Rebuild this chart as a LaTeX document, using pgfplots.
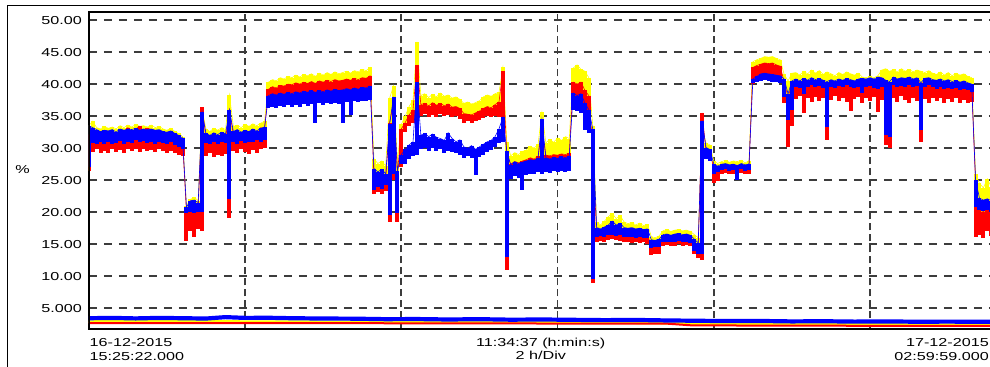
\documentclass[border=0pt]{standalone}
\usepackage{pgfplots}
\usepackage{pgfplotstable}
\pgfplotsset{compat=1.18}
\usepackage{fontspec}
\setmainfont{Liberation Sans}[FakeStretch=1.4]
\definecolor{gridgray}{HTML}{3C3C3C}
\definecolor{ylw}{HTML}{FFFF00}
\definecolor{rd}{HTML}{FF0000}
\definecolor{bl}{HTML}{0000FF}

% x = hours after 16-12-2015 15:25:22 ; Yt = yellow top, Rt/Rb = red top/bottom, Bt/Bb = blue top/bottom (%)
\pgfplotstableread{
x Yt Rt Rb Bt Bb
0.00 33.5 32.0 26.5 33.5 27.0
0.05 34.2 33.0 29.4 33.2 30.8
0.10 33.2 32.4 29.8 32.9 30.6
0.15 33.0 32.2 29.2 32.6 30.9
0.20 33.4 32.6 29.6 32.8 30.7
0.25 33.1 32.3 29.3 32.7 31.0
0.30 33.3 32.5 29.9 32.9 30.6
0.35 33.0 32.1 29.4 32.5 30.8
0.40 33.5 32.8 29.7 33.0 31.1
0.45 33.2 32.4 29.3 32.8 30.7
0.50 33.6 33.2 29.8 33.0 31.0
0.55 33.3 32.6 29.5 32.9 30.8
0.60 33.7 33.0 29.9 33.1 31.2
0.65 33.4 33.4 29.4 32.8 30.9
0.70 33.5 32.7 29.8 33.0 31.1
0.75 33.3 33.1 29.5 32.9 30.8
0.80 33.6 32.9 29.7 33.0 31.0
0.85 33.2 32.5 29.4 32.8 30.7
0.90 33.4 32.8 29.9 32.9 31.0
0.95 33.0 32.4 29.6 32.6 30.8
1.00 32.8 32.3 29.3 32.5 30.6
1.05 33.1 32.5 29.5 32.7 30.9
1.10 32.6 32.0 29.2 32.3 30.5
1.15 32.3 31.8 29.0 32.0 30.2
1.20 31.8 31.2 28.8 31.6 29.8
1.25 21.0 20.0 15.5 20.8 19.8
1.30 22.0 20.3 17.0 21.8 20.0
1.35 22.3 20.5 16.2 21.9 19.9
1.40 21.8 20.2 17.3 21.5 20.1
1.45 36.0 36.4 17.0 35.6 20.0
1.50 33.0 31.6 28.8 32.3 30.8
1.55 32.6 31.3 29.3 32.0 30.6
1.60 33.1 31.8 28.6 32.4 30.9
1.65 32.8 31.5 29.0 32.1 30.7
1.70 33.2 31.9 28.7 32.5 31.0
1.75 32.9 31.4 29.1 32.2 30.8
1.80 38.3 36.0 19.1 36.0 22.0
1.85 33.4 32.0 29.6 32.6 31.0
1.90 33.6 32.3 29.2 32.9 30.7
1.95 33.2 31.8 29.9 32.5 31.1
2.00 33.7 32.2 29.4 32.8 30.8
2.05 33.4 31.9 29.1 32.6 31.0
2.10 33.8 32.4 29.7 33.0 30.9
2.15 33.5 32.1 29.3 32.7 31.2
2.20 33.9 33.2 29.8 33.1 31.0
2.25 34.2 33.0 30.0 33.3 31.2
2.30 40.3 39.2 37.5 38.2 36.2
2.35 40.7 39.6 37.8 38.5 36.5
2.40 40.5 39.4 37.6 38.3 36.3
2.45 41.0 39.8 38.0 38.6 36.6
2.50 40.8 39.7 37.9 38.4 36.4
2.55 41.2 40.0 38.2 38.7 36.7
2.60 41.0 39.9 38.0 38.5 36.4
2.65 41.4 40.2 38.3 38.8 36.8
2.70 41.1 40.0 38.1 38.6 36.5
2.75 41.5 40.3 38.4 38.9 36.9
2.80 41.3 40.1 38.2 38.7 36.6
2.85 41.6 40.4 38.5 39.0 36.9
2.90 41.2 40.1 34.5 38.7 34.0
2.95 41.7 40.5 38.5 39.0 37.0
3.00 41.4 40.3 38.3 38.8 36.8
3.05 41.8 40.6 38.6 39.1 37.0
3.10 41.5 40.4 38.4 38.9 36.9
3.15 41.9 40.7 38.7 39.2 37.1
3.20 41.6 40.5 38.5 39.0 36.9
3.25 41.8 40.6 35.0 39.1 34.0
3.30 42.0 40.8 38.7 39.3 37.2
3.35 41.7 40.6 35.5 39.1 35.2
3.40 42.1 40.9 38.8 39.4 37.3
3.45 41.9 40.7 38.6 39.2 37.2
3.50 42.3 41.0 38.9 39.5 37.4
3.55 42.1 40.9 38.8 39.4 37.3
3.60 42.6 41.3 39.0 39.7 37.5
3.65 28.3 25.2 22.8 26.8 23.5
3.70 27.6 25.0 23.2 26.3 24.0
3.75 28.0 25.3 22.9 26.7 23.6
3.80 27.2 25.0 23.3 26.0 24.2
3.85 37.8 34.0 18.5 33.7 19.5
3.90 39.7 37.0 25.0 38.0 26.0
3.95 28.0 26.0 18.5 26.5 19.8
4.00 33.7 33.0 27.0 29.0 27.5
4.05 35.0 34.0 32.5 29.8 27.5
4.10 36.5 35.2 33.5 30.5 28.3
4.15 37.5 36.0 34.0 31.0 28.8
4.20 46.6 43.0 34.5 40.3 29.0
4.25 38.2 36.8 35.0 32.0 29.8
4.30 38.5 37.0 35.3 32.3 30.0
4.35 37.9 36.6 34.8 31.8 29.6
4.40 38.4 37.1 35.2 32.2 30.1
4.45 38.0 36.7 34.9 31.7 29.5
4.50 38.6 37.0 35.4 31.5 29.8
4.55 38.1 36.6 35.0 31.2 29.3
4.60 38.3 36.9 35.2 32.4 29.6
4.65 37.8 36.4 34.8 31.5 29.4
4.70 38.0 36.5 35.0 31.0 29.2
4.75 37.6 36.2 34.6 31.3 29.0
4.80 37.0 35.4 34.0 30.2 28.5
4.85 37.2 35.3 34.2 30.0 28.8
4.90 36.9 35.2 33.9 30.4 28.4
4.95 37.1 35.5 34.3 29.8 25.8
5.00 37.4 35.8 34.4 30.2 28.6
5.05 38.0 36.2 34.7 30.6 29.0
5.10 38.3 36.5 35.0 31.0 29.4
5.15 38.1 36.3 34.8 31.2 29.7
5.20 38.5 36.8 35.0 31.8 30.2
5.25 38.7 37.2 34.8 33.0 30.8
5.30 42.6 42.0 33.5 34.8 31.0
5.35 31.0 29.0 11.0 29.5 13.0
5.40 28.8 27.5 25.6 27.4 25.2
5.45 29.3 27.9 26.0 27.9 25.6
5.50 29.0 27.7 25.8 27.6 25.4
5.55 29.5 28.0 26.0 27.8 23.4
5.60 29.7 28.2 26.3 28.0 25.8
5.65 30.3 28.5 26.6 28.2 26.0
5.70 30.0 28.3 26.5 28.1 25.9
5.75 30.6 28.7 26.8 28.4 26.2
5.80 35.6 33.0 26.5 34.5 26.0
5.85 30.8 28.9 26.9 28.5 26.3
5.90 31.4 28.8 26.7 28.3 26.1
5.95 30.9 29.0 27.0 28.6 26.4
6.00 31.6 28.9 26.8 28.4 26.2
6.05 31.2 29.1 27.1 28.7 26.5
6.10 31.8 29.0 26.9 28.5 26.3
6.15 31.5 29.2 27.0 28.8 26.4
6.20 42.5 40.3 37.0 38.6 36.0
6.25 43.0 40.0 36.8 38.2 35.8
6.30 42.3 40.3 37.2 38.5 35.5
6.35 42.0 39.0 34.0 37.0 32.8
6.40 41.0 38.2 33.0 36.0 32.3
6.45 33.5 30.0 8.9 33.0 9.6
6.50 18.5 16.5 15.3 17.6 16.2
6.55 18.0 16.4 15.5 17.4 16.3
6.60 18.6 16.6 15.4 17.7 16.1
6.65 19.3 17.0 15.6 18.0 16.4
6.70 19.8 17.2 15.8 18.6 16.5
6.75 19.0 16.9 15.7 18.0 16.3
6.80 19.5 17.1 15.5 18.3 16.4
6.85 18.5 16.6 15.4 17.6 16.2
6.90 18.2 16.5 15.3 17.5 16.1
6.95 18.4 16.6 15.2 17.6 16.2
7.00 18.0 16.4 15.4 17.4 16.0
7.05 18.3 16.5 15.2 17.5 16.1
7.10 17.9 16.3 15.3 17.3 16.0
7.15 18.1 16.4 15.1 17.4 15.9
7.20 16.2 14.8 13.3 15.7 14.4
7.25 16.0 14.7 13.5 15.6 14.5
7.30 16.3 14.9 13.4 15.8 14.6
7.35 17.1 15.6 14.8 16.5 15.3
7.40 17.3 15.7 14.9 16.6 15.4
7.45 17.0 15.5 14.7 16.4 15.3
7.50 17.2 15.6 14.8 16.6 15.4
7.55 17.3 15.7 15.0 16.7 15.5
7.60 17.1 15.5 14.8 16.5 15.3
7.65 17.2 15.6 14.9 16.6 15.4
7.70 17.0 15.5 14.7 16.4 15.2
7.75 16.5 15.0 13.5 15.8 14.0
7.80 16.0 14.5 12.8 15.2 13.5
7.85 33.0 35.5 12.6 34.3 13.5
7.90 30.8 29.5 28.4 30.1 28.3
7.95 30.5 29.3 28.2 29.8 28.0
8.00 28.0 26.8 24.5 27.5 26.0
8.05 27.6 26.5 24.8 27.2 26.2
8.10 27.9 26.9 25.9 27.5 26.6
8.15 28.1 27.0 26.1 27.6 26.7
8.20 27.8 26.8 25.9 27.4 26.5
8.25 28.0 26.9 26.0 27.5 26.6
8.30 27.9 26.7 25.8 27.3 25.0
8.35 28.1 27.0 26.1 27.6 26.7
8.40 27.7 26.8 25.9 27.4 26.5
8.45 28.0 26.9 26.0 27.5 26.6
8.50 43.5 42.6 40.0 40.8 40.2
8.55 43.8 42.9 40.3 41.2 40.4
8.60 44.0 43.1 40.6 41.6 40.5
8.65 44.3 43.3 40.8 41.7 40.6
8.70 44.2 43.2 40.7 41.6 40.5
8.75 44.3 43.3 40.8 41.5 40.4
8.80 44.0 43.0 40.6 41.4 40.3
8.85 43.8 42.8 40.4 41.3 40.2
8.90 41.5 40.3 37.0 40.8 38.0
8.95 40.5 38.0 30.2 38.5 34.4
9.00 41.7 40.0 33.5 40.5 36.0
9.05 41.8 40.2 37.6 40.8 39.6
9.10 41.4 40.0 38.2 40.5 39.4
9.15 42.0 40.4 35.5 40.9 38.5
9.20 41.6 40.1 37.8 40.6 39.6
9.25 42.2 40.5 37.2 41.0 39.8
9.30 41.7 40.2 38.0 40.7 39.5
9.35 42.1 40.4 37.4 40.9 39.7
9.40 41.5 40.1 37.9 40.6 39.4
9.45 41.9 40.3 31.2 40.4 33.3
9.50 41.6 40.2 37.5 40.7 39.5
9.55 41.3 40.0 38.1 40.5 39.4
9.60 41.8 40.3 37.3 40.8 39.7
9.65 41.5 40.1 37.9 40.6 39.5
9.70 41.9 40.4 37.2 40.9 39.8
9.75 41.6 40.2 35.8 40.7 39.6
9.80 41.4 40.0 37.6 40.5 39.4
9.85 41.7 40.3 38.0 40.8 39.6
9.90 41.1 40.0 37.0 40.9 38.6
9.95 41.0 40.1 37.8 40.8 39.5
10.00 41.2 40.0 37.4 41.0 39.7
10.05 41.0 39.9 38.0 40.8 39.4
10.10 41.3 40.2 35.6 41.1 39.3
10.15 42.2 40.4 37.5 41.0 39.6
10.20 42.4 40.3 30.5 40.6 32.0
10.25 42.0 40.1 30.0 40.4 31.7
10.30 42.3 40.5 37.8 41.1 39.8
10.35 41.9 40.2 37.2 40.8 39.5
10.40 42.4 40.4 38.1 41.0 39.7
10.45 42.0 40.3 37.5 40.9 39.6
10.50 42.3 40.5 37.0 41.1 39.8
10.55 41.9 40.2 37.8 40.8 39.5
10.60 42.2 40.4 37.3 41.0 39.7
10.65 42.0 40.1 31.0 40.2 32.8
10.70 41.8 40.3 37.6 40.9 39.6
10.75 42.1 40.4 37.1 41.0 39.8
10.80 41.7 40.2 37.9 40.7 39.5
10.85 41.5 40.0 37.3 40.6 39.3
10.90 41.9 40.3 37.8 40.8 39.5
10.95 41.4 40.0 37.0 40.5 39.3
11.00 41.8 40.2 37.6 40.7 39.4
11.05 41.3 39.9 37.2 40.4 39.2
11.10 41.7 40.1 37.9 40.6 39.4
11.15 41.4 39.8 37.1 40.3 39.1
11.20 41.6 40.0 37.5 40.5 39.3
11.25 41.2 39.8 37.0 40.2 39.0
11.30 41.0 39.7 37.2 40.0 38.8
11.35 26.0 24.5 16.1 25.0 20.8
11.40 24.5 20.3 16.5 22.2 20.3
11.45 23.8 20.1 16.0 21.9 20.2
11.50 25.2 20.4 17.0 22.1 20.4
11.55 24.0 20.2 16.3 21.8 20.0
11.60 24.8 20.3 16.6 22.0 20.2
}\datatable

\begin{document}
\begin{tikzpicture}[font=\fontsize{11.6}{14}\selectfont]
\begin{axis}[
  at={(88.8bp,37.7bp)}, anchor=south west,
  scale only axis, width=904.5bp, height=317.6bp,
  xmin=0, xmax=11.577, ymin=1.72, ymax=51.30,
  xtick={2,4,6,8,10}, xticklabels={},
  ytick={5,10,15,20,25,30,35,40,45,50},
  yticklabels={5.000,10.00,15.00,20.00,25.00,30.00,35.00,40.00,45.00,50.00},
  tick style={draw=none}, major tick length=0pt,
  xmajorgrids, ymajorgrids,
  major x grid style={line width=1.7bp, color=gridgray, dash pattern=on 7bp off 4bp},
  major y grid style={line width=1.6bp, color=gridgray, dash pattern=on 8.3bp off 6.7bp},
  axis line style={line width=2bp, black},
  yticklabel style={inner sep=0pt, xshift=-6.8bp, anchor=east},
]
\addplot[color=ylw, line width=0.6bp, no marks,
  error bars/.cd, y dir=minus, y explicit, error mark=none,
  error bar style={line width=4bp, ylw}]
  table[x=x, y=Yt, y error minus expr=\thisrow{Yt}-\thisrow{Rb}] {\datatable};
\addplot[color=rd, line width=0.6bp, no marks,
  error bars/.cd, y dir=minus, y explicit, error mark=none,
  error bar style={line width=4bp, rd}]
  table[x=x, y=Rt, y error minus expr=\thisrow{Rt}-\thisrow{Rb}] {\datatable};
\addplot[color=bl, line width=0.6bp, no marks,
  error bars/.cd, y dir=minus, y explicit, error mark=none,
  error bar style={line width=4bp, bl}]
  table[x=x, y=Bt, y error minus expr=\thisrow{Bt}-\thisrow{Bb}] {\datatable};
% lower traces
\addplot[color=ylw, line width=2.7bp, no marks] coordinates {
(0,2.92)(1,2.95)(2,2.92)(3,2.88)(4,2.85)(5,2.8)(6,2.78)(7,2.72)(7.8,2.62)(8.5,2.55)(9.5,2.5)(10.5,2.45)(11.6,2.42)};
\addplot[color=rd, line width=2bp, no marks] coordinates {
(0,2.68)(1.5,2.7)(3,2.68)(4.5,2.65)(6,2.62)(7.4,2.6)(7.7,2.35)(8.5,2.3)(9.5,2.28)(10.5,2.25)(11.6,2.25)};
\addplot[color=bl, line width=4.2bp, no marks] coordinates {
(0,3.45)(0.3,3.5)(0.6,3.42)(0.9,3.5)(1.2,3.45)(1.5,3.4)(1.75,3.62)(2.0,3.5)(2.3,3.52)(2.6,3.45)(3.0,3.4)(3.4,3.38)(3.8,3.3)(4.2,3.32)(4.6,3.25)(5.0,3.3)(5.4,3.22)(5.8,3.25)(6.2,3.2)(6.6,3.15)(7.0,3.18)(7.4,3.1)(7.8,3.05)(8.2,3.0)(8.6,3.02)(9.0,2.95)(9.4,2.98)(9.8,2.92)(10.2,2.95)(10.6,2.9)(11.0,2.92)(11.6,2.88)};
\draw[line width=3.3bp, black] (rel axis cs:0,0) -- (rel axis cs:0,1);
\end{axis}
% outer frame
\draw[line width=0.8bp, black] (7bp,-10bp) -- (7bp,362bp) -- (1000bp,362bp);
\node[anchor=center] at (22.5bp,197bp) {\%};
\node[anchor=base west, inner sep=0pt] at (89.5bp,21bp) {16-12-2015};
\node[anchor=base west, inner sep=0pt] at (89.5bp,7bp) {15:25:22.000};
\node[anchor=base, inner sep=0pt] at (540.7bp,20.5bp) {11:34:37 (h:min:s)};
\node[anchor=base, inner sep=0pt] at (540.8bp,7.5bp) {2 h/Div};
\node[anchor=base east, inner sep=0pt] at (989bp,21bp) {17-12-2015};
\node[anchor=base east, inner sep=0pt] at (989bp,7bp) {02:59:59.000};
\pgfresetboundingbox
\path[use as bounding box] (0,0) rectangle (990bp,367bp);
\end{tikzpicture}
\end{document}
